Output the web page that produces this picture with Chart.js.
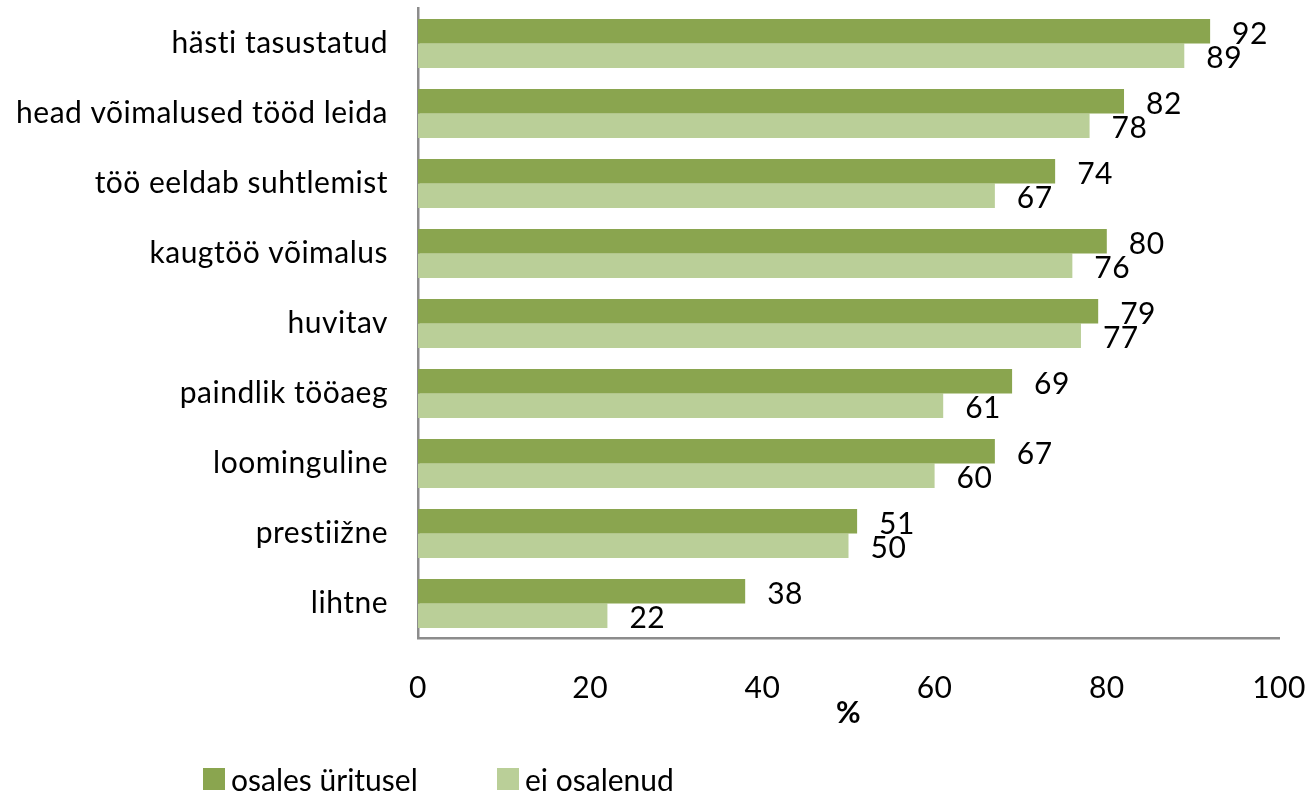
<!DOCTYPE html>
<html>
<head>
<meta charset="utf-8">
<script src="https://cdn.jsdelivr.net/npm/chart.js@4"></script>
<style>
  html, body { margin: 0; padding: 0; background: #fff; }
  #wrap { position: relative; width: 1310px; height: 794px; }
  .leg { position: absolute; top: 761px; font-family: Lato, sans-serif; font-size: 30px; color: #000; display: flex; align-items: center; white-space: nowrap; font-variant-ligatures: none; }
  .leg i { display: inline-block; width: 22px; height: 22px; margin-right: 6px; }
</style>
</head>
<body>
<div id="wrap">
  <canvas id="chart" width="1310" height="794"></canvas>
  <div class="leg" style="left:203px"><i style="background:#8AA54F"></i><span id="leg1"></span></div>
  <div class="leg" style="left:497px"><i style="background:#BACF98"></i><span id="leg2"></span></div>
</div>
<script>
// categories, top to bottom
const categories = [
  "hästi tasustatud",
  "head võimalused tööd leida",
  "töö eeldab suhtlemist",
  "kaugtöö võimalus",
  "huvitav",
  "paindlik tööaeg",
  "loominguline",
  "prestiižne",
  "lihtne",
];
const seriesNames = ["osales üritusel", "ei osalenud"];
const osales = [92, 82, 74, 80, 79, 69, 67, 51, 38];
const eiOsalenud = [89, 78, 67, 76, 77, 61, 60, 50, 22];
const xTicks = [0, 20, 40, 60, 80, 100];

document.getElementById("leg1").textContent = seriesNames[0];
document.getElementById("leg2").textContent = seriesNames[1];

const FONT = "Lato";

// slight letter spacing, also stops the "ti" ligature
const spacing = {
  id: "spacing",
  beforeDraw(chart) {
    chart.ctx.letterSpacing = "0.5px";
  },
};

// value labels to the right of each bar
const valueLabels = {
  id: "valueLabels",
  afterDatasetsDraw(chart) {
    const ctx = chart.ctx;
    ctx.save();
    ctx.font = "30px " + FONT;
    ctx.fillStyle = "#000";
    ctx.textAlign = "left";
    ctx.textBaseline = "middle";
    chart.data.datasets.forEach((ds, i) => {
      chart.getDatasetMeta(i).data.forEach((bar, j) => {
        ctx.fillText(String(ds.data[j]), bar.x + 22, bar.y + 3);
      });
    });
    ctx.restore();
  },
};

new Chart(document.getElementById("chart"), {
  type: "bar",
  data: {
    labels: categories,
    datasets: [
      {
        label: seriesNames[0],
        data: osales,
        backgroundColor: "#8AA54F",
        categoryPercentage: 0.7,
        barPercentage: 1.0,
      },
      {
        label: seriesNames[1],
        data: eiOsalenud,
        backgroundColor: "#BACF98",
        categoryPercentage: 0.7,
        barPercentage: 1.0,
      },
    ],
  },
  options: {
    indexAxis: "y",
    responsive: false,
    animation: false,
    layout: { padding: { left: 0, right: 31, top: 8.5, bottom: 61 } },
    plugins: {
      legend: { display: false },
      tooltip: { enabled: false },
    },
    scales: {
      x: {
        min: 0,
        max: 100,
        afterBuildTicks: (scale) => {
          scale.ticks = xTicks.map((v) => ({ value: v }));
        },
        afterFit: (scale) => {
          scale.height = 94.5;
          scale.paddingLeft = 0;
          scale.paddingRight = 0;
        },
        grid: { display: false, drawTicks: false },
        border: { display: true, color: "#8C8C8C", width: 2.5 },
        ticks: {
          color: "#000",
          padding: 32,
          maxRotation: 0,
          font: { family: FONT, size: 30 },
        },
        title: {
          display: true,
          text: "%",
          color: "#000",
          font: { family: FONT, size: 30, weight: "bold" },
          padding: { top: 4, bottom: 2 },
        },
      },
      y: {
        afterFit: (scale) => {
          scale.width = 418;
          scale.paddingTop = 0;
          scale.paddingBottom = 0;
        },
        grid: { display: false, drawTicks: false },
        border: { display: true, color: "#8C8C8C", width: 2.5 },
        ticks: {
          color: "#000",
          padding: 30,
          autoSkip: false,
          font: { family: FONT, size: 30 },
        },
      },
    },
  },
  plugins: [spacing, valueLabels],
});
</script>
</body>
</html>
